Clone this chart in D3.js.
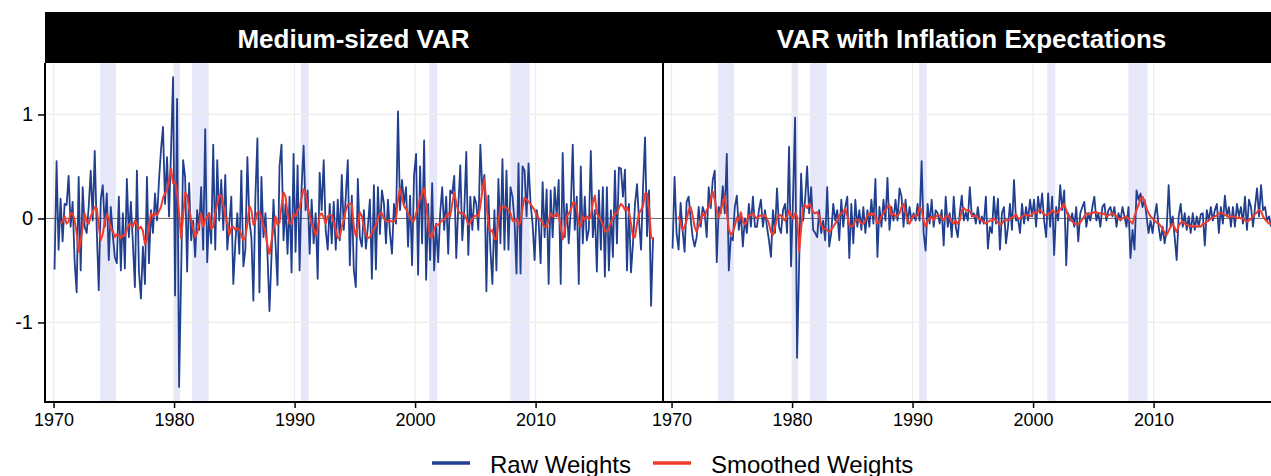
<!DOCTYPE html>
<html><head><meta charset="utf-8">
<script src="https://cdn.jsdelivr.net/npm/d3@7"></script>
<style>
html,body{margin:0;padding:0;background:#fff;}
svg{display:block;font-family:"Liberation Sans",Arial,sans-serif;}
</style>
</head><body>
<svg id="chart" width="1271" height="476"></svg>
<script>
// ---------- DATA ----------
const panelTitles = ["Medium-sized VAR", "VAR with Inflation Expectations"];
const startYear = 1970 + 1/12;   // first observation (Feb 1970)
const stepYears = 2/12;          // one observation every two months

const raw1 = [
 -0.49, 0.55,-0.30, 0.19,-0.22, 0.14, // 1970
  0.13, 0.41,-0.08, 0.16,-0.42,-0.71, // 1971
  0.40,-0.50, 0.30,-0.08,-0.14, 0.11, // 1972
  0.46,-0.02, 0.65,-0.11,-0.69, 0.18, // 1973
  0.32,-0.08, 0.24,-0.40, 0.11,-0.16, // 1974
 -0.37,-0.43, 0.21,-0.50, 0.05,-0.48, // 1975
  0.38,-0.18, 0.16,-0.24,-0.66, 0.46, // 1976
 -0.50,-0.77,-0.27,-0.63, 0.40,-0.43, // 1977
  0.08,-0.14, 0.24,-0.02, 0.37, 0.66, // 1978
  0.88, 0.14, 0.59, 0.02, 0.66, 1.36, // 1979
 -0.74, 1.15,-1.62,-0.56, 0.56, 0.40, // 1980
 -0.51, 0.34,-0.21,-0.02,-0.37, 0.08, // 1981
 -0.11, 0.30,-0.30, 0.86,-0.42, 0.05, // 1982
 -0.24, 0.71,-0.30, 0.56,-0.02, 0.37, // 1983
 -0.11, 0.42,-0.30,-0.05, 0.21,-0.63, // 1984
 -0.24, 0.05,-0.34, 0.46,-0.46,-0.30, // 1985
  0.59,-0.02,-0.18,-0.79, 0.21, 0.77, // 1986
 -0.71, 0.40,-0.18, 0.05,-0.34,-0.89, // 1987
 -0.37, 0.18,-0.24,-0.64, 0.50, 0.71, // 1988
 -0.21, 0.14,-0.34, 0.21,-0.52, 0.62, // 1989
 -0.32, 0.51,-0.50, 0.30, 0.70, 0.08, // 1990
  0.27,-0.34, 0.18,-0.24, 0.05,-0.58, // 1991
  0.44, 0.08, 0.56,-0.11,-0.30, 0.14, // 1992
 -0.24, 0.16,-0.30, 0.18,-0.21, 0.42, // 1993
 -0.11, 0.21, 0.56,-0.45, 0.22,-0.50, // 1994
 -0.66, 0.38,-0.18,-0.27, 0.08,-0.29, // 1995
 -0.08, 0.18,-0.58, 0.32,-0.49, 0.30, // 1996
 -0.15, 0.27, 0.14,-0.24, 0.18,-0.14, // 1997
 -0.34, 0.14,-0.05, 1.03, 0.08, 0.37, // 1998
  0.14, 0.30,-0.27, 0.22,-0.45, 0.42, // 1999
  0.62,-0.54, 0.50,-0.24, 0.75,-0.59, // 2000
  0.14,-0.40, 0.34,-0.50,-0.05,-0.42, // 2001
  0.05, 0.30,-0.11, 0.21,-0.34, 0.27, // 2002
  0.24, 0.41,-0.38, 0.11, 0.51,-0.21, // 2003
  0.08, 0.64,-0.35, 0.21,-0.11, 0.21, // 2004
  0.14,-0.11, 0.71, 0.27, 0.42,-0.70, // 2005
  0.22,-0.30,-0.63, 0.08,-0.50, 0.38, // 2006
 -0.24, 0.57,-0.30, 0.46,-0.30, 0.30, // 2007
  0.21,-0.02,-0.53, 0.53,-0.53, 0.50, // 2008
  0.46, 0.02, 0.53, 0.14,-0.05,-0.40, // 2009
  0.08,-0.02,-0.43, 0.35,-0.18, 0.28, // 2010
 -0.63, 0.27,-0.18, 0.30, 0.02, 0.37, // 2011
 -0.63, 0.63,-0.18, 0.14,-0.24, 0.08, // 2012
  0.71,-0.11, 0.21,-0.63, 0.50,-0.24, // 2013
  0.21,-0.21,-0.11, 0.65,-0.18, 0.08, // 2014
 -0.51, 0.27,-0.30, 0.30,-0.56, 0.30, // 2015
 -0.50, 0.08,-0.37, 0.46,-0.24, 0.49, // 2016
  0.48, 0.21, 0.47,-0.50, 0.14,-0.52, // 2017
 -0.24, 0.14, 0.33,-0.02,-0.30, 0.30, // 2018
  0.78,-0.17, 0.27,-0.84,-0.18        // 2019
];

const smooth1 = [
  null, null, null,-0.05,-0.03, 0.02, // 1970
 -0.05,-0.03, 0.05, 0.05,-0.02,-0.14, // 1971
 -0.32,-0.22,-0.08, 0.05,-0.03,-0.05, // 1972
  0.02, 0.06, 0.11, 0.10,-0.08,-0.21, // 1973
 -0.15,-0.03, 0.04, 0.00,-0.10,-0.12, // 1974
 -0.18,-0.15,-0.16,-0.19,-0.16,-0.17, // 1975
 -0.11,-0.06,-0.05,-0.08,-0.02,-0.05, // 1976
 -0.10,-0.08,-0.12,-0.25,-0.20,-0.08, // 1977
  0.05, 0.02, 0.05, 0.03, 0.07, 0.11, // 1978
  0.20, 0.24, 0.27, 0.37, 0.48, 0.34, // 1979
  0.36, 0.25, 0.05,-0.19, 0.02, 0.25, // 1980
  0.22, 0.10,-0.02,-0.10,-0.18,-0.14, // 1981
 -0.05, 0.05,-0.08,-0.01, 0.02, 0.05, // 1982
 -0.10,-0.08, 0.05, 0.14, 0.22, 0.22, // 1983
  0.13, 0.02,-0.05,-0.16,-0.09,-0.08, // 1984
 -0.11,-0.09,-0.11,-0.16,-0.21,-0.18, // 1985
 -0.05, 0.12, 0.08,-0.06,-0.02, 0.06, // 1986
  0.06, 0.00,-0.07,-0.14,-0.26,-0.34, // 1987
 -0.22,-0.10, 0.02,-0.06,-0.04, 0.12, // 1988
  0.25, 0.21, 0.04,-0.05,-0.05, 0.04, // 1989
  0.02, 0.08, 0.10, 0.20, 0.28, 0.24, // 1990
  0.12, 0.03,-0.05,-0.10,-0.16,-0.10, // 1991
  0.03, 0.05, 0.01,-0.05, 0.02, 0.03, // 1992
  0.03,-0.04,-0.11,-0.19,-0.18,-0.08, // 1993
 -0.02, 0.08, 0.13, 0.14, 0.14,-0.08, // 1994
 -0.17,-0.07, 0.06, 0.02,-0.08,-0.15, // 1995
 -0.19,-0.18,-0.14,-0.10,-0.06, 0.00, // 1996
  0.05, 0.05, 0.00,-0.03,-0.03,-0.02, // 1997
 -0.03,-0.03, 0.00, 0.18, 0.29, 0.20, // 1998
  0.12, 0.09, 0.05, 0.01,-0.03,-0.02, // 1999
  0.05, 0.11, 0.20, 0.24, 0.29, 0.14, // 2000
 -0.05,-0.18,-0.18,-0.10,-0.06,-0.06, // 2001
 -0.04,-0.02,-0.01, 0.02, 0.05, 0.02, // 2002
  0.14, 0.25, 0.15, 0.07, 0.05, 0.05, // 2003
  0.04, 0.00,-0.06,-0.04, 0.00, 0.02, // 2004
  0.03, 0.02, 0.12, 0.27, 0.38, 0.15, // 2005
 -0.06,-0.13,-0.11,-0.20,-0.20,-0.02, // 2006
  0.11, 0.10, 0.12, 0.10, 0.08, 0.05, // 2007
 -0.02,-0.03, 0.00,-0.07,-0.03, 0.10, // 2008
  0.20, 0.18, 0.16, 0.14, 0.11, 0.08, // 2009
  0.03, 0.00,-0.01,-0.05,-0.08,-0.08, // 2010
 -0.02, 0.05, 0.02, 0.02, 0.05, 0.03, // 2011
 -0.08,-0.20,-0.12, 0.02, 0.05, 0.08, // 2012
  0.15, 0.15, 0.10,-0.05,-0.08, 0.02, // 2013
 -0.01, 0.02,-0.01, 0.02, 0.15, 0.22, // 2014
  0.05, 0.02,-0.02,-0.06,-0.12,-0.13, // 2015
 -0.09,-0.04, 0.00, 0.05, 0.05, 0.10, // 2016
  0.14, 0.12, 0.08, 0.11, 0.06,-0.05, // 2017
 -0.18,-0.18,-0.05, 0.05, 0.08, 0.12, // 2018
  0.24, 0.24, 0.10,-0.18,-0.20        // 2019
];

const raw2 = [
 -0.29, 0.40,-0.14,-0.30, 0.15,-0.11, // 1970
 -0.32, 0.16, 0.21, 0.00,-0.18,-0.27, // 1971
 -0.18, 0.11,-0.08, 0.11, 0.05,-0.18, // 1972
  0.30, 0.10, 0.37, 0.46,-0.42, 0.11, // 1973
  0.05, 0.31, 0.05, 0.62,-0.50,-0.18, // 1974
 -0.21, 0.11, 0.22,-0.11, 0.05,-0.27, // 1975
  0.00,-0.14, 0.14,-0.08, 0.21,-0.08, // 1976
 -0.08, 0.08, 0.18,-0.08, 0.08,-0.08, // 1977
 -0.21,-0.37, 0.08,-0.14, 0.29,-0.08, // 1978
 -0.14, 0.08, 0.14,-0.14, 0.69,-0.46, // 1979
  0.21, 0.97,-1.34,-0.45, 0.43,-0.02, // 1980
  0.18, 0.50, 0.05, 0.30,-0.11,-0.14, // 1981
 -0.18, 0.08,-0.14,-0.02,-0.21, 0.30, // 1982
 -0.27,-0.14, 0.14,-0.02, 0.08,-0.21, // 1983
  0.18,-0.08, 0.11, 0.21,-0.38, 0.14, // 1984
 -0.24, 0.18,-0.08, 0.08,-0.11, 0.11, // 1985
 -0.14, 0.08,-0.08, 0.18,-0.05, 0.38, // 1986
 -0.37, 0.11,-0.08, 0.18,-0.02, 0.39, // 1987
 -0.11, 0.11,-0.02, 0.18,-0.02, 0.29, // 1988
  0.21,-0.08, 0.18,-0.05, 0.11,-0.02, // 1989
  0.05,-0.02, 0.14,-0.02, 0.55,-0.14, // 1990
 -0.31, 0.14,-0.05, 0.18,-0.08, 0.08, // 1991
  0.05,-0.05, 0.08,-0.26, 0.21,-0.08, // 1992
  0.05,-0.18, 0.21,-0.08,-0.18, 0.05, // 1993
  0.22,-0.02, 0.06,-0.02, 0.30, 0.02, // 1994
  0.05,-0.05, 0.11,-0.05, 0.02,-0.05, // 1995
  0.21,-0.29,-0.08,-0.14, 0.21,-0.05, // 1996
  0.19,-0.30, 0.05, 0.11,-0.24,-0.08, // 1997
  0.14,-0.11, 0.37,-0.02, 0.00,-0.14, // 1998
  0.14,-0.05, 0.11,-0.02, 0.18, 0.02, // 1999
  0.18,-0.08, 0.21, 0.05, 0.24,-0.02, // 2000
 -0.18, 0.24,-0.08, 0.21,-0.35, 0.11, // 2001
 -0.02, 0.32, 0.08, 0.27,-0.45, 0.05, // 2002
 -0.02, 0.05,-0.08, 0.11,-0.22, 0.05, // 2003
  0.11, 0.16,-0.08, 0.05,-0.02, 0.11, // 2004
  0.21,-0.02, 0.05,-0.08, 0.11, 0.14, // 2005
 -0.02, 0.08, 0.11, 0.02, 0.11,-0.08, // 2006
  0.05,-0.02, 0.11, 0.02,-0.08, 0.11, // 2007
 -0.38,-0.11,-0.30, 0.27, 0.18, 0.24, // 2008
  0.11, 0.18, 0.02,-0.14,-0.02,-0.14, // 2009
  0.02, 0.14,-0.08,-0.21,-0.08,-0.24, // 2010
 -0.11, 0.32,-0.08, 0.02,-0.18,-0.40, // 2011
  0.02, 0.14,-0.08, 0.05,-0.11, 0.02, // 2012
 -0.14, 0.05,-0.11, 0.02,-0.08, 0.04, // 2013
  0.05,-0.26, 0.08,-0.02, 0.11,-0.02, // 2014
  0.08, 0.14,-0.14, 0.11,-0.05, 0.22, // 2015
  0.02, 0.11,-0.08, 0.11,-0.08, 0.14, // 2016
  0.02, 0.11,-0.05, 0.21,-0.11, 0.18, // 2017
  0.11,-0.08, 0.11, 0.29, 0.02, 0.32, // 2018
  0.08, 0.11,-0.02, 0.02,-0.08        // 2019
];

const smooth2 = [
  null, null, null, 0.02,-0.05,-0.11, // 1970
 -0.08,-0.02, 0.08, 0.11, 0.03,-0.08, // 1971
 -0.13,-0.07,-0.02, 0.05, 0.02, 0.08, // 1972
  0.11, 0.18, 0.26, 0.18, 0.08, 0.01, // 1973
  0.08, 0.14, 0.22, 0.05,-0.10,-0.16, // 1974
 -0.13,-0.07, 0.01,-0.02, 0.06,-0.03, // 1975
 -0.06,-0.02, 0.03, 0.03, 0.05, 0.02, // 1976
  0.00, 0.02, 0.03, 0.02, 0.03, 0.00, // 1977
 -0.05,-0.13,-0.16,-0.08, 0.00, 0.03, // 1978
  0.03, 0.00,-0.02, 0.02, 0.08, 0.03, // 1979
  0.00, 0.05, 0.02,-0.32,-0.10, 0.10, // 1980
  0.13, 0.10, 0.14, 0.11, 0.06, 0.05, // 1981
  0.06, 0.02,-0.06,-0.10,-0.10,-0.11, // 1982
 -0.13,-0.11,-0.08,-0.05,-0.02, 0.03, // 1983
  0.05, 0.06, 0.10, 0.02,-0.06,-0.08, // 1984
 -0.07,-0.02,-0.01,-0.02,-0.05,-0.05, // 1985
 -0.02, 0.03, 0.05, 0.03, 0.05, 0.02, // 1986
 -0.05,-0.03, 0.02, 0.05, 0.08, 0.11, // 1987
  0.13, 0.03, 0.05, 0.02, 0.03, 0.05, // 1988
  0.11, 0.14, 0.05,-0.02,-0.05, 0.00, // 1989
  0.03, 0.02, 0.03, 0.11, 0.08,-0.02, // 1990
 -0.08,-0.02, 0.00, 0.02,-0.02, 0.02, // 1991
  0.03, 0.03, 0.00,-0.02, 0.02, 0.03, // 1992
  0.00,-0.03,-0.05,-0.02,-0.05,-0.02, // 1993
  0.08, 0.10, 0.08, 0.08, 0.07, 0.03, // 1994
  0.02, 0.03, 0.00, 0.00,-0.02,-0.03, // 1995
 -0.05,-0.03,-0.02,-0.02, 0.00,-0.02, // 1996
 -0.04,-0.06,-0.05,-0.02,-0.02,-0.01, // 1997
 -0.01, 0.01, 0.02, 0.04, 0.00, 0.00, // 1998
  0.02, 0.03, 0.04, 0.03, 0.02, 0.04, // 1999
  0.06, 0.05, 0.07, 0.08, 0.06, 0.04, // 2000
  0.03, 0.04, 0.05, 0.08, 0.06, 0.05, // 2001
  0.06, 0.09, 0.11, 0.14, 0.08, 0.02, // 2002
  0.00,-0.03,-0.05,-0.06,-0.05,-0.04, // 2003
 -0.01, 0.02, 0.05, 0.04, 0.05, 0.05, // 2004
  0.06, 0.06, 0.05, 0.05, 0.04, 0.05, // 2005
  0.02, 0.03, 0.04, 0.05, 0.04, 0.02, // 2006
  0.00,-0.01, 0.00, 0.01, 0.02, 0.00, // 2007
 -0.03,-0.05, 0.02, 0.08, 0.13, 0.19, // 2008
  0.21, 0.16, 0.10, 0.05, 0.02, 0.00, // 2009
 -0.02,-0.04,-0.05,-0.07,-0.10,-0.14, // 2010
 -0.16,-0.12,-0.08,-0.05,-0.09,-0.13, // 2011
 -0.07,-0.04,-0.03,-0.05,-0.06,-0.07, // 2012
 -0.07,-0.08,-0.07,-0.08,-0.07,-0.08, // 2013
 -0.05,-0.05,-0.03,-0.02, 0.00, 0.01, // 2014
  0.02, 0.03, 0.05, 0.05, 0.05, 0.03, // 2015
  0.03, 0.01, 0.02, 0.02, 0.02, 0.00, // 2016
  0.01, 0.00, 0.00,-0.02,-0.03,-0.02, // 2017
  0.00, 0.02, 0.04, 0.06, 0.08, 0.07, // 2018
  0.02,-0.01,-0.03,-0.05,-0.05        // 2019
];

const recessionStarts = [1973.87, 1980.00, 1981.50, 1990.54, 2001.17, 2007.92];
const recessionEnds   = [1975.17, 1980.50, 1982.87, 1991.17, 2001.83, 2009.50];
const xTickValues = [1970, 1980, 1990, 2000, 2010];
const yTickValues = [-1, 0, 1];
const legendLabels = ["Raw Weights", "Smoothed Weights"];

// ---------- STYLE / LAYOUT ----------
const colRaw = "#213f8f", colSmooth = "#ef3b2c", colBand = "#e7e7fa", colGrid = "#ececec";
const W = 1271, H = 476;
const plotTop = 63, plotBottom = 402, stripTop = 12;
const panelRanges = [[45, 662], [663, 1280]];
const xDomain = [1969.29, 2020.49];
const FONT = "'Liberation Sans',Arial,sans-serif";

const svg = d3.select("#chart");
svg.append("rect").attr("width", W).attr("height", H).attr("fill", "#fff");

const y = d3.scaleLinear().domain([-1.765, 1.495]).range([plotBottom, plotTop]);

const series = [[raw1, smooth1], [raw2, smooth2]];
const bands = recessionStarts.map((s, i) => [s, recessionEnds[i]]);

// strip background
svg.append("rect").attr("x", panelRanges[0][0]).attr("y", stripTop)
  .attr("width", W - panelRanges[0][0]).attr("height", plotTop - stripTop).attr("fill", "#000");

panelRanges.forEach((rng, p) => {
  const x = d3.scaleLinear().domain(xDomain).range(rng);
  const g = svg.append("g");
  const clipId = "clip" + p;
  svg.append("clipPath").attr("id", clipId).append("rect")
    .attr("x", rng[0]).attr("y", plotTop).attr("width", rng[1] - rng[0]).attr("height", plotBottom - plotTop);
  const inner = g.append("g").attr("clip-path", `url(#${clipId})`);

  // recession bands
  inner.selectAll("rect.band").data(bands).join("rect").attr("class", "band")
    .attr("x", d => x(d[0])).attr("width", d => x(d[1]) - x(d[0]))
    .attr("y", plotTop).attr("height", plotBottom - plotTop).attr("fill", colBand);

  // grid
  inner.selectAll("line.vg").data(xTickValues).join("line")
    .attr("x1", d => x(d)).attr("x2", d => x(d)).attr("y1", plotTop).attr("y2", plotBottom)
    .attr("stroke", colGrid).attr("stroke-width", 1.2);
  inner.selectAll("line.hg").data(yTickValues).join("line")
    .attr("x1", rng[0]).attr("x2", rng[1]).attr("y1", d => y(d)).attr("y2", d => y(d))
    .attr("stroke", colGrid).attr("stroke-width", 1.2);

  // zero line
  inner.append("line").attr("x1", rng[0]).attr("x2", rng[1]).attr("y1", y(0)).attr("y2", y(0))
    .attr("stroke", "#333").attr("stroke-width", 0.8).attr("stroke-opacity", 0.85);

  const [raw, sm] = series[p];
  const toPts = arr => arr.map((v, i) => ({t: startYear + i * stepYears, v}));
  const line = d3.line().defined(d => d.v !== null).x(d => x(d.t)).y(d => y(d.v));

  inner.append("path").datum(toPts(raw)).attr("d", line)
    .attr("fill", "none").attr("stroke", colRaw).attr("stroke-width", 1.8).attr("stroke-linejoin", "round");
  inner.append("path").datum(toPts(sm)).attr("d", line)
    .attr("fill", "none").attr("stroke", colSmooth).attr("stroke-width", 2).attr("stroke-linejoin", "round");

  // x axis
  const xAxis = d3.axisBottom(x).tickValues(xTickValues).tickFormat(d => String(d)).tickSize(6).tickPadding(5);
  const ax = g.append("g").attr("transform", `translate(0,${plotBottom})`).call(xAxis);
  ax.select(".domain").attr("d", `M${rng[0]},0H${rng[1]}`).attr("stroke", "#000").attr("stroke-width", 2);
  ax.selectAll(".tick line").attr("stroke", "#000").attr("stroke-width", 1.5);
  ax.selectAll(".tick text").attr("font-size", 18).attr("fill", "#000").attr("font-family", FONT);

  // y axis line
  g.append("line").attr("x1", rng[0]).attr("x2", rng[0]).attr("y1", plotTop).attr("y2", plotBottom + 1)
    .attr("stroke", "#000").attr("stroke-width", 2);

  if (p === 0) {
    const yAxis = d3.axisLeft(y).tickValues(yTickValues).tickFormat(d => String(d)).tickSize(7).tickPadding(5);
    const ay = g.append("g").attr("transform", `translate(${rng[0]},0)`).call(yAxis);
    ay.select(".domain").remove();
    ay.selectAll(".tick line").attr("stroke", "#000").attr("stroke-width", 1.5);
    ay.selectAll(".tick text").attr("font-size", 20).attr("fill", "#000").attr("font-family", FONT);
  }

  // strip title
  svg.append("text").attr("x", (rng[0] + rng[1]) / 2).attr("y", (stripTop + plotTop) / 2 + 1)
    .attr("text-anchor", "middle").attr("dominant-baseline", "central")
    .attr("fill", "#fff").attr("font-weight", "bold").attr("font-size", 26)
    .text(panelTitles[p]);
});

// legend
const legend = svg.append("g");
const legendItems = [{label: legendLabels[0], color: colRaw, x: 432}, {label: legendLabels[1], color: colSmooth, x: 653}];
legendItems.forEach(it => {
  legend.append("line").attr("x1", it.x).attr("x2", it.x + 38).attr("y1", 463).attr("y2", 463)
    .attr("stroke", it.color).attr("stroke-width", 3.5);
  legend.append("text").attr("x", it.x + 58).attr("y", 464).attr("dominant-baseline", "central")
    .attr("font-size", 24).attr("fill", "#000").text(it.label);
});
</script>
</body></html>
